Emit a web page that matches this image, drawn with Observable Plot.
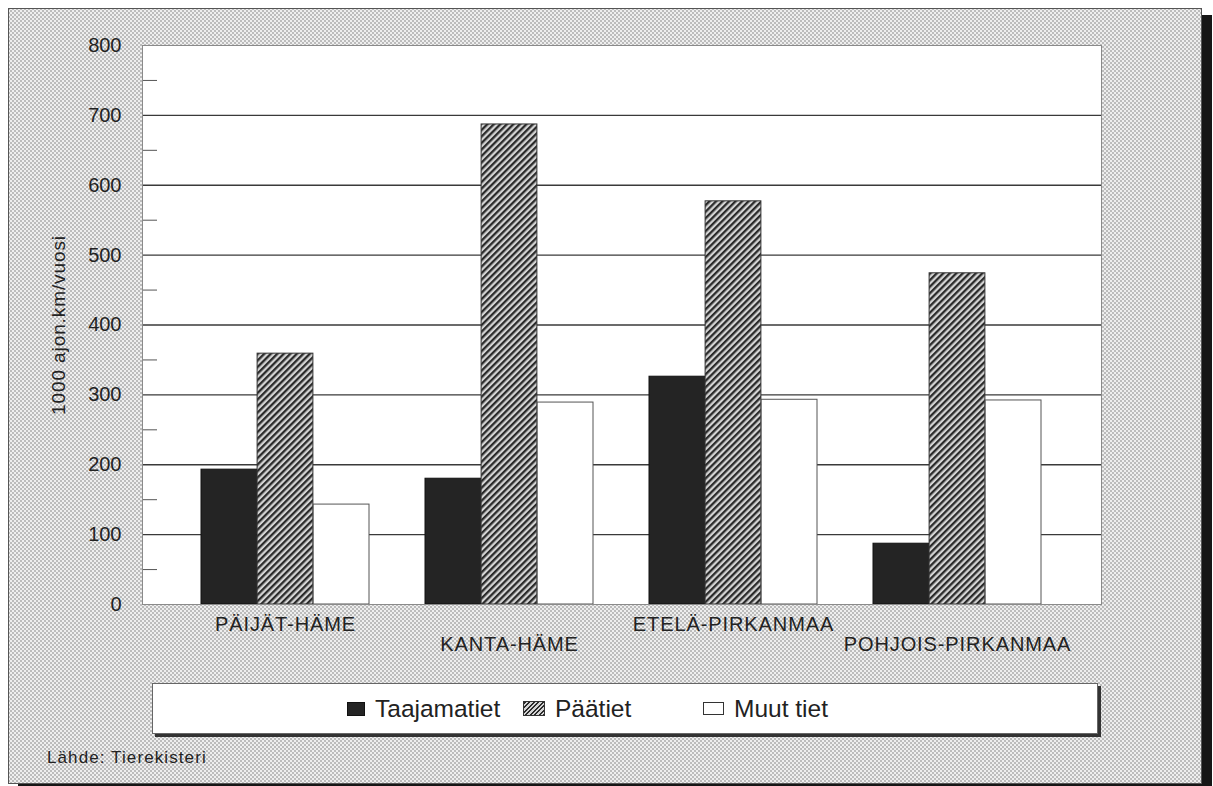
<!DOCTYPE html>
<html>
<head>
<meta charset="utf-8">
<script src="https://cdn.jsdelivr.net/npm/d3@7"></script>
<script src="https://cdn.jsdelivr.net/npm/@observablehq/plot@0.6"></script>
<style>
  html, body { margin: 0; padding: 0; background: #fff; }
  body { width: 1213px; height: 786px; position: relative; overflow: hidden; font-family: "Liberation Sans", Arial, sans-serif; }
  #frame {
    position: absolute; left: 8px; top: 8px; width: 1194px; height: 776px;
    box-sizing: border-box; border: 1px solid #555;
    background:
      radial-gradient(circle, #a4a4a4 0.55px, transparent 1.05px) 0 0 / 4px 4px,
      radial-gradient(circle, #a4a4a4 0.55px, transparent 1.05px) 2px 2px / 4px 4px,
      #eeeeee;
    box-shadow: 10px 7px 0 #161616;
  }
  #chart { position: absolute; left: 0; top: 0; }
  #legend {
    position: absolute; left: 143px; top: 674px; width: 946px; height: 51px;
    box-sizing: border-box; background: #fff; border: 1px solid #666;
    box-shadow: 3px 3px 0 #333;
  }
  .item { position: absolute; top: 0; height: 49px; display: flex; align-items: center; font-size: 24.5px; color: #222; }
  .sw { display: inline-block; margin-right: 10px; box-sizing: border-box; }
  #caption { position: absolute; left: 38px; top: 739px; font-size: 17px; color: #222; letter-spacing: 1.1px; }
</style>
</head>
<body>
<div id="frame">
  <div id="chart"></div>
  <div id="legend"></div>
  <div id="caption">Lähde: Tierekisteri</div>
</div>
<script>
const regions = ["PÄIJÄT-HÄME", "KANTA-HÄME", "ETELÄ-PIRKANMAA", "POHJOIS-PIRKANMAA"];
const series = ["Taajamatiet", "Päätiet", "Muut tiet"];
const taajamatiet = [193, 180, 326, 87];
const paatiet = [359, 687, 577, 474];
const muutTiet = [143, 289, 293, 292];
const yTicks = [0, 100, 200, 300, 400, 500, 600, 700, 800];
const gridTicks = [100, 200, 300, 400, 500, 600, 700];
const minorTicks = [50, 150, 250, 350, 450, 550, 650, 750];
const yLabel = "1000 ajon.km/vuosi";

const seriesValues = [taajamatiet, paatiet, muutTiet];
const seriesFill = ["#242424", "url(#hatch)", "#ffffff"];
const seriesStroke = ["#111", "#333", "#555"];

const rows = [];
series.forEach((s, k) => regions.forEach((r, i) => rows.push({region: r, series: s, k, value: seriesValues[k][i]})));

const W = 1100, H = 655, mL = 133, mR = 8, mT = 36, mB = 60;
const pIn = 0.249, pOut = 0.264;
const bw = d3.scaleBand().domain(regions).range([mL, W - mR]).paddingInner(pIn).paddingOuter(pOut).bandwidth();
const third = bw / 3;

const barMarks = series.map((s, k) =>
  Plot.barY(rows.filter(d => d.k === k), {
    x: "region", y: "value",
    fill: seriesFill[k], stroke: seriesStroke[k], strokeWidth: 1,
    insetLeft: k * third, insetRight: (2 - k) * third
  })
);

const even = regions.filter((d, i) => i % 2 === 0);
const odd = regions.filter((d, i) => i % 2 === 1);

const plot = Plot.plot({
  width: W, height: H,
  marginLeft: mL, marginRight: mR, marginTop: mT, marginBottom: mB,
  style: {background: "transparent", fontFamily: "'Liberation Sans', Arial, sans-serif", color: "#222"},
  x: {domain: regions, paddingInner: pIn, paddingOuter: pOut, axis: null},
  y: {domain: [0, 800], axis: null},
  marks: [
    Plot.frame({fill: "white", stroke: null}),
    Plot.ruleY(gridTicks, {stroke: "#3a3a3a", strokeWidth: 1.3}),
    Plot.tickY(minorTicks, {y: d => d, stroke: "#555", insetRight: (W - mL - mR) - 15}),
    ...barMarks,
    Plot.frame({stroke: "#8a8a8a", fill: null}),
    Plot.axisY({ticks: yTicks, tickSize: 0, tickPadding: 21, fontSize: 20, label: null}),
    Plot.text(even, {x: d => d, frameAnchor: "bottom", dy: 26, fontSize: 20, fill: "#222", text: d => d, letterSpacing: "1px", style: "letter-spacing:1px"}),
    Plot.text(odd, {x: d => d, frameAnchor: "bottom", dy: 46, fontSize: 20, fill: "#222", text: d => d}),
    Plot.text([yLabel], {frameAnchor: "left", dx: -84, rotate: -90, textAnchor: "middle", fontSize: 19, fill: "#222", text: d => d})
  ]
});

// hatch pattern
const svgSel = d3.select(plot);
const defs = svgSel.insert("defs", ":first-child");
const pat = defs.append("pattern").attr("id", "hatch").attr("patternUnits", "userSpaceOnUse")
  .attr("width", 4.6).attr("height", 4.6).attr("patternTransform", "rotate(45)");
pat.append("rect").attr("width", 4.6).attr("height", 4.6).attr("fill", "#d4d4d4");
pat.append("rect").attr("width", 2.3).attr("height", 4.6).attr("fill", "#2a2a2a");
// wider letter spacing for category labels, as in the scanned original
svgSel.selectAll("g[aria-label='text'] text").style("letter-spacing", "0.9px");

document.getElementById("chart").appendChild(plot);

// legend
const legendLeft = [194, 370, 550];
const swStyles = [
  "width:18px;height:14px;background:#242424;border:1px solid #111;",
  "width:22px;height:15px;border:1px solid #333;background:repeating-linear-gradient(135deg,#2a2a2a 0 1.6px,#d4d4d4 1.6px 3.2px);",
  "width:21px;height:13px;background:#fff;border:1px solid #333;"
];
const legend = document.getElementById("legend");
series.forEach((s, k) => {
  const it = document.createElement("div");
  it.className = "item";
  it.style.left = legendLeft[k] + "px";
  const sw = document.createElement("span");
  sw.className = "sw";
  sw.style.cssText = swStyles[k];
  it.appendChild(sw);
  it.appendChild(document.createTextNode(s));
  legend.appendChild(it);
});
</script>
</body>
</html>
